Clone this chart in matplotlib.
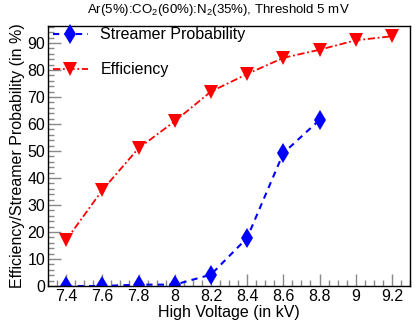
import matplotlib
matplotlib.use("Agg")
import matplotlib.pyplot as plt
from matplotlib.ticker import MultipleLocator, FixedLocator

plt.rcParams['font.family'] = ['Liberation Sans', 'DejaVu Sans']
plt.rcParams['mathtext.fontset'] = 'custom'
plt.rcParams['mathtext.rm'] = 'Liberation Sans'

hv_streamer = [7.4, 7.6, 7.8, 8.0, 8.2, 8.4, 8.6, 8.8]
streamer = [0.0, 0.0, 0.5, 0.5, 4.2, 17.8, 49.2, 61.5]
hv_eff = [7.4, 7.6, 7.8, 8.0, 8.2, 8.4, 8.6, 8.8, 9.0, 9.2]
efficiency = [17.0, 35.5, 51.0, 61.0, 72.0, 78.5, 84.5, 87.5, 91.0, 92.5]
xticks = [7.4, 7.6, 7.8, 8.0, 8.2, 8.4, 8.6, 8.8, 9.0, 9.2]
xticklabels = ["7.4", "7.6", "7.8", "8", "8.2", "8.4", "8.6", "8.8", "9", "9.2"]

fig = plt.figure(figsize=(4.15, 3.2), dpi=100)
ax = fig.add_axes([48/415, 1-286/320, (410-48)/415, (286-26)/320])

ax.plot(hv_streamer, streamer, color='#0000ff', linestyle=(0, (3, 2.5)), lw=1.5,
        marker='d', markersize=10.5, markeredgewidth=0, label='Streamer Probability')
ax.plot(hv_eff, efficiency, color='#ff0000', linestyle=(0, (4, 1.5, 1, 1.5)), lw=1.3,
        marker='v', markersize=10, markeredgewidth=0, label='Efficiency')

ax.set_xlim(7.3, 9.3)
ax.set_ylim(0, 96.3)
ax.xaxis.set_major_locator(FixedLocator(xticks))
ax.set_xticklabels(xticklabels)
ax.xaxis.set_minor_locator(MultipleLocator(0.05))
ax.yaxis.set_major_locator(MultipleLocator(10))
ax.yaxis.set_minor_locator(MultipleLocator(2))
ax.tick_params(which='both', direction='in', top=False, right=False, labelsize=11.5, pad=2)
ax.tick_params(which='major', length=9, width=1, color='#888888')
ax.tick_params(which='minor', length=4.5, width=1, color='#888888')
for s in ax.spines.values():
    s.set_linewidth(1)

ax.set_xlabel('High Voltage (in kV)', fontsize=11.5, labelpad=1)
ax.set_ylabel('Efficiency/Streamer Probability (in %)', fontsize=11.5, labelpad=2)
fig.text(218/415, 1-10/320, 'Ar(5%):CO$_2$(60%):N$_2$(35%), Threshold 5 mV',
         ha='center', va='center', fontsize=9.5)

ax.legend(loc='upper left', frameon=False, fontsize=11.5, handlelength=2.2,
          borderaxespad=0, bbox_to_anchor=(-0.005, 1.02), labelspacing=1.25, handletextpad=0.8)

fig.savefig('out.png', dpi=100)
